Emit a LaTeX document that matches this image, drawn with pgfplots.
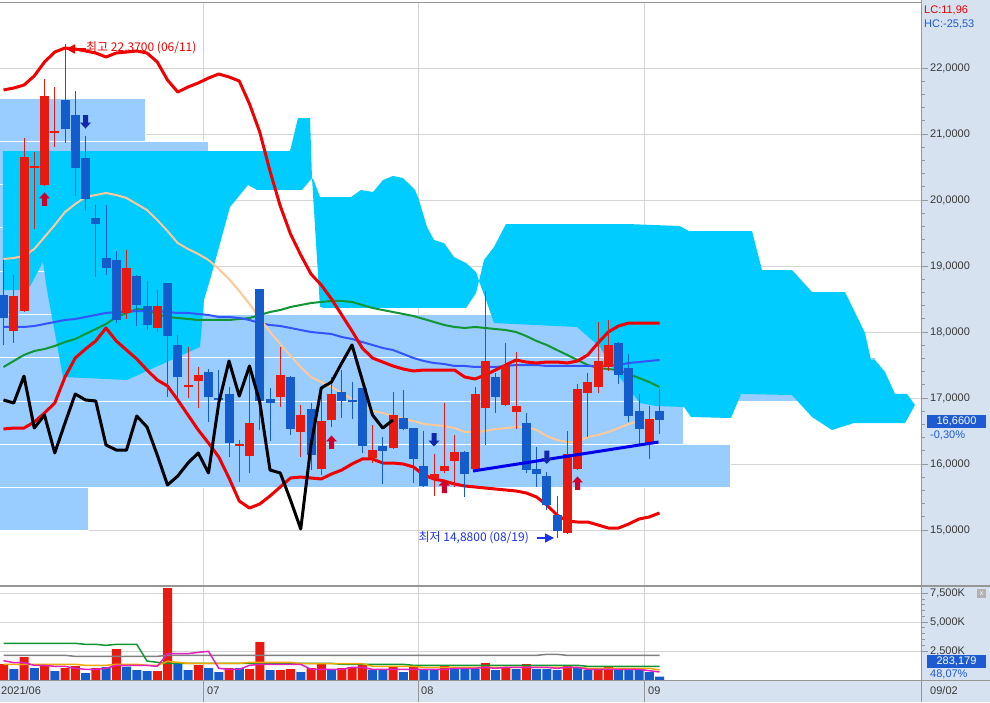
\documentclass[border=0pt]{standalone}
\usepackage{fontspec}
\setmainfont{Liberation Sans}
\newfontfamily\kr{Noto Sans CJK KR}
\usepackage{pgfplots}
\usepackage{pgfplotstable}
\pgfplotsset{compat=1.18}
\usetikzlibrary{arrows.meta}

\definecolor{cred}{RGB}{232,26,16}
\definecolor{cblue}{RGB}{20,92,204}
\definecolor{bbred}{RGB}{240,0,0}
\definecolor{peach}{RGB}{255,200,150}
\definecolor{magreen}{RGB}{16,150,50}
\definecolor{mablue}{RGB}{50,85,255}
\definecolor{cloud}{RGB}{0,204,255}
\definecolor{band}{RGB}{153,204,255}
\definecolor{panel}{RGB}{214,226,240}
\definecolor{gridc}{RGB}{212,212,212}
\definecolor{frame}{RGB}{150,150,150}
\definecolor{tickc}{RGB}{56,56,56}
\definecolor{sigred}{RGB}{210,0,40}
\definecolor{sigblue}{RGB}{16,40,170}
\definecolor{trend}{RGB}{0,0,235}
\definecolor{vmag}{RGB}{224,32,192}
\definecolor{vorange}{RGB}{240,168,0}
\definecolor{vgray}{RGB}{128,128,128}
\definecolor{lblue}{RGB}{30,90,210}
\definecolor{lowblue}{RGB}{30,50,230}

% signal arrows
\pgfdeclareplotmark{uparr}{%
  \pgfpathmoveto{\pgfqpoint{0pt}{7pt}}%
  \pgfpathlineto{\pgfqpoint{5.5pt}{1pt}}%
  \pgfpathlineto{\pgfqpoint{2.5pt}{1pt}}%
  \pgfpathlineto{\pgfqpoint{2.5pt}{-6.5pt}}%
  \pgfpathlineto{\pgfqpoint{-2.5pt}{-6.5pt}}%
  \pgfpathlineto{\pgfqpoint{-2.5pt}{1pt}}%
  \pgfpathlineto{\pgfqpoint{-5.5pt}{1pt}}%
  \pgfpathclose\pgfusepathqfill}
\pgfdeclareplotmark{dnarr}{%
  \pgfpathmoveto{\pgfqpoint{0pt}{-7pt}}%
  \pgfpathlineto{\pgfqpoint{5.5pt}{-1pt}}%
  \pgfpathlineto{\pgfqpoint{2.5pt}{-1pt}}%
  \pgfpathlineto{\pgfqpoint{2.5pt}{6.5pt}}%
  \pgfpathlineto{\pgfqpoint{-2.5pt}{6.5pt}}%
  \pgfpathlineto{\pgfqpoint{-2.5pt}{-1pt}}%
  \pgfpathlineto{\pgfqpoint{-5.5pt}{-1pt}}%
  \pgfpathclose\pgfusepathqfill}

% candles: index, open, high, low, close
\pgfplotstableread{
k o h l c
1 18.015 18.864 17.833 18.545
2 18.318 20.939 18.303 20.652
3 20.485 20.727 19.561 20.515
4 20.227 21.833 20.210 21.576
5 21.015 21.712 20.803 21.045
12 18.288 19.242 18.197 18.970
15 18.061 18.636 18.000 18.394
18 17.167 17.773 17.000 17.197
19 17.258 17.470 16.848 17.348
23 16.273 16.364 15.727 16.303
24 16.121 17.470 15.864 16.621
27 17.015 17.773 16.864 17.348
29 16.485 16.894 16.106 16.742
31 15.924 17.121 15.833 16.652
32 16.667 17.318 16.561 17.061
36 16.091 16.591 16.015 16.212
38 16.242 17.091 16.230 16.742
42 15.773 16.152 15.515 15.848
43 15.894 16.924 15.864 15.970
44 16.045 16.439 15.652 16.182
46 15.924 17.167 15.910 17.061
47 16.848 18.621 16.288 17.561
49 16.894 17.833 16.879 17.500
50 16.788 17.697 16.530 16.879
55 14.955 16.500 14.940 16.152
56 15.924 17.212 15.910 17.136
57 17.076 17.379 16.409 17.242
58 17.167 18.152 17.076 17.561
59 17.470 18.182 17.409 17.803
63 16.318 16.879 16.076 16.682
}\upcandles
\pgfplotstableread{
k o h l c
0 18.561 19.091 17.803 18.212
6 21.515 22.370 20.864 21.076
7 21.288 21.652 20.061 20.485
8 20.636 20.970 19.833 20.015
9 19.727 19.924 18.833 19.636
10 19.121 19.924 18.864 18.970
11 19.091 19.227 18.136 18.182
13 18.848 18.864 18.091 18.409
14 18.394 18.773 18.030 18.106
16 18.742 18.742 17.015 17.939
17 17.803 17.955 17.000 17.318
20 17.394 17.439 16.636 17.015
21 17.000 17.424 16.742 16.970
22 17.061 17.167 16.106 16.318
25 18.652 18.652 16.515 16.955
26 16.985 17.152 16.348 16.924
28 17.318 17.333 16.439 16.530
30 16.833 16.924 15.909 16.136
33 17.091 17.424 16.697 16.955
34 16.970 17.242 16.682 16.939
35 17.152 17.152 16.167 16.273
37 16.273 16.409 15.697 16.197
39 16.697 17.121 16.515 16.530
40 16.545 16.545 15.712 16.076
41 15.970 16.500 15.652 15.667
45 16.182 16.197 15.500 15.848
48 17.318 17.379 16.773 17.015
51 16.621 16.773 15.864 15.909
52 15.924 16.258 15.652 15.848
53 15.818 15.879 15.303 15.379
54 15.227 15.515 14.880 14.985
60 17.833 17.848 17.212 17.348
61 17.455 17.667 16.636 16.727
62 16.803 17.061 16.303 16.530
64 16.803 17.136 16.455 16.660
}\downcandles

% bollinger bands (upper, middle, lower) and moving averages
\pgfplotstableread{
k u m l g b
0 21.667 19.106 16.530 17.470 18.076
1 21.697 19.121 16.545 17.561 18.076
2 21.742 19.152 16.545 17.652 18.076
3 21.879 19.258 16.636 17.712 18.091
4 22.091 19.439 16.773 17.742 18.121
5 22.242 19.621 16.924 17.788 18.152
6 22.303 19.818 17.318 17.848 18.182
7 22.288 19.939 17.606 17.894 18.197
8 22.258 20.045 17.742 17.970 18.227
9 22.227 20.076 17.864 18.045 18.258
10 22.167 20.106 18.061 18.121 18.288
11 22.227 20.076 17.864 18.227 18.303
12 22.242 20.030 17.727 18.288 18.303
13 22.258 19.939 17.591 18.348 18.318
14 22.227 19.848 17.424 18.333 18.318
15 22.091 19.697 17.273 18.273 18.318
16 21.818 19.530 17.182 18.227 18.303
17 21.636 19.348 16.970 18.212 18.288
18 21.712 19.258 16.742 18.197 18.288
19 21.773 19.182 16.515 18.182 18.273
20 21.848 19.091 16.318 18.182 18.258
21 21.909 18.955 16.106 18.182 18.227
22 21.864 18.803 15.788 18.182 18.227
23 21.803 18.621 15.439 18.197 18.212
24 21.455 18.424 15.333 18.212 18.182
25 21.030 18.212 15.394 18.258 18.136
26 20.439 18.000 15.515 18.303 18.106
27 19.909 17.818 15.652 18.333 18.091
28 19.485 17.636 15.788 18.379 18.061
29 19.167 17.470 15.803 18.409 18.030
30 18.879 17.318 15.788 18.439 18.000
31 18.712 17.242 15.773 18.455 17.985
32 18.500 17.167 15.848 18.470 17.970
33 18.258 17.076 15.909 18.470 17.924
34 18.015 16.985 16.000 18.455 17.894
35 17.758 16.894 16.076 18.409 17.848
36 17.606 16.803 16.076 18.364 17.803
37 17.545 16.773 16.015 18.333 17.758
38 17.485 16.727 16.015 18.303 17.727
39 17.439 16.682 16.000 18.273 17.667
40 17.409 16.652 15.955 18.242 17.606
41 17.424 16.606 15.833 18.197 17.561
42 17.424 16.591 15.773 18.152 17.530
43 17.424 16.576 15.742 18.106 17.515
44 17.424 16.545 15.697 18.076 17.485
45 17.318 16.485 15.667 18.061 17.485
46 17.288 16.485 15.652 18.076 17.470
47 17.348 16.500 15.636 18.061 17.470
48 17.424 16.530 15.621 18.045 17.470
49 17.500 16.545 15.606 18.030 17.485
50 17.576 16.561 15.591 18.000 17.500
51 17.545 16.561 15.561 17.939 17.500
52 17.530 16.515 15.500 17.864 17.500
53 17.545 16.424 15.379 17.803 17.485
54 17.545 16.364 15.227 17.727 17.485
55 17.530 16.333 15.136 17.652 17.485
56 17.561 16.333 15.121 17.576 17.485
57 17.652 16.409 15.121 17.500 17.485
58 17.833 16.439 15.076 17.455 17.485
59 18.000 16.485 15.030 17.439 17.485
60 18.091 16.545 15.030 17.424 17.500
61 18.136 16.606 15.091 17.364 17.530
62 18.136 16.652 15.167 17.303 17.545
63 18.136 16.667 15.197 17.242 17.561
64 18.136 16.697 15.258 17.167 17.576
}\lines

\pgfplotstableread{
k v
0 16.970
1 16.924
2 17.333
3 16.545
4 16.742
5 16.167
6 16.621
7 17.061
8 16.970
9 16.955
10 16.288
11 16.212
12 16.212
13 16.727
14 16.561
15 16.136
16 15.682
17 15.818
18 16.015
19 16.167
20 15.864
21 16.924
22 17.561
23 17.030
24 17.485
25 16.939
26 15.909
27 15.864
28 15.455
29 15.015
30 16.288
31 17.152
32 17.242
33 17.530
34 17.803
35 17.273
36 16.742
37 16.545
38 16.667
}\blackline

% volume (thousands)
\pgfplotstableread{
k v
0 1384
2 1989
4 1297
6 1038
7 1211
9 1038
11 2681
15 778
16 7957
19 1297
22 1038
24 951
25 3287
27 865
28 951
30 1038
31 1384
33 1038
34 1124
35 1297
38 1211
40 1211
43 1211
47 1470
49 1038
51 1384
55 1211
58 951
59 1153
}\volup
\pgfplotstableread{
k v
1 951
3 1038
5 778
8 605
10 1124
12 1153
13 865
14 778
17 1384
18 865
20 1038
21 692
23 1038
26 865
29 692
32 951
36 865
37 865
39 692
41 951
42 865
44 1038
45 951
46 951
48 865
50 951
52 951
53 951
54 865
56 1124
57 865
60 951
61 951
62 951
63 692
64 283
}\voldown
\pgfplotstableread{
k gr gn mg or
0 2133 3171 1672 1355
1 2133 3171 1499 1355
2 2133 3171 1499 1355
3 2133 3171 1268 1355
4 2133 3171 1268 1355
5 2133 3171 1182 1355
6 2133 3171 1182 1355
7 2047 3171 1009 1355
8 2047 3085 923 1268
9 2047 3085 923 1268
10 2047 2998 1009 1268
11 2047 3085 1268 1355
12 2047 3085 1268 1355
13 2047 3085 1268 1355
14 2047 1643 1268 1268
15 2047 1528 1182 1268
16 2133 1441 2278 1614
17 2133 1441 2278 1528
18 2133 1441 2278 1441
19 2133 1441 2393 1441
20 2133 1441 2479 1441
21 2133 1441 1009 1441
22 2133 1441 923 1441
23 2133 1441 923 1441
24 2133 1441 1268 1528
25 2133 1441 1355 1528
26 2133 1441 1355 1528
27 2133 1441 1355 1528
28 2133 1441 1355 1528
29 2133 1441 1355 1413
30 2133 1441 923 1413
31 2133 1441 923 1413
32 2133 1441 923 1413
33 2133 1355 923 1413
34 2133 1355 1096 1413
35 2133 1355 1096 1413
36 2133 1355 923 1182
37 2133 1355 923 1182
38 2133 1355 923 1182
39 2133 1355 923 1182
40 2133 1268 923 1182
41 2133 1268 923 1096
42 2133 1268 923 1096
43 2133 1268 923 1096
44 2133 1268 1009 1096
45 2133 1268 1009 1096
46 2133 1268 1009 1096
47 2133 1268 1096 1096
48 2133 1268 1009 1096
49 2133 1268 1096 1096
50 2133 1268 1096 1096
51 2133 1268 1096 1096
52 2133 1268 1096 1096
53 2220 1268 1096 1096
54 2220 1268 1009 1096
55 2133 1268 1096 1096
56 2133 1268 1096 1096
57 2133 1182 923 1009
58 2133 1182 923 1009
59 2133 1182 923 1009
60 2133 1182 923 1009
61 2133 1182 923 1009
62 2133 1182 923 1009
63 2133 1182 807 1009
64 2133 1182 692 865
}\volma

\tikzset{lab/.style={font=\fontsize{11}{12}\selectfont, inner sep=0pt}}
\pgfplotsset{
  chartpanel/.style={
    anchor=south west, scale only axis, width=921pt,
    xmin=-0.3415, xmax=89.512,
    axis line style={draw=none},
    xtick={19.5,40.5,62.5}, xticklabels={}, x tick style={draw=none},
    xmajorgrids, ymajorgrids,
    major grid style={gridc, line width=1pt},
    ytick pos=right, yticklabel pos=right,
    minor y tick num=4, tick align=outside,
    major tick length=7pt, minor tick length=3.5pt,
    y tick style={frame, line width=1pt},
    yticklabel style={font=\fontsize{11}{12}\selectfont, text=tickc, anchor=west, inner sep=0pt, xshift=2pt},
  },
  wick/.style={draw=none, error bars/.cd, y dir=both, y explicit, error mark=none,
    error bar style={line width=1pt, draw=#1}},
  body/.style={draw=none, error bars/.cd, y dir=both, y explicit, error mark=none,
    error bar style={line width=9pt, draw=#1}},
}

\begin{document}
\begin{tikzpicture}
\useasboundingbox (0pt,0pt) rectangle (990pt,702pt);
\fill[white] (0pt,0pt) rectangle (990pt,702pt);
\fill[panel] (921pt,0pt) rectangle (990pt,702pt);
\fill[panel] (0pt,0pt) rectangle (921pt,21pt);

% ---------------- price panel ----------------
\begin{axis}[chartpanel, at={(0pt,116pt)}, height=583pt,
  ymin=14.1515, ymax=22.985,
  ytick={15,16,...,22},
  yticklabels={{15,0000},{16,0000},{17,0000},{18,0000},{19,0000},{20,0000},{21,0000},{22,0000}},
]
% volume-at-price bands
\addplot[fill=band, draw=white, line width=1pt] coordinates {(-1,21.545) (13.902,21.545) (13.902,20.889) (-1,20.889)} -- cycle;
\addplot[fill=band, draw=white, line width=1pt] coordinates {(-1,20.889) (19.951,20.889) (19.951,20.233) (-1,20.233)} -- cycle;
\addplot[fill=band, draw=white, line width=1pt] coordinates {(-1,20.233) (11.366,20.233) (11.366,19.577) (-1,19.577)} -- cycle;
\addplot[fill=band, draw=white, line width=1pt] coordinates {(-1,19.577) (11.366,19.577) (11.366,18.921) (-1,18.921)} -- cycle;
\addplot[fill=band, draw=white, line width=1pt] coordinates {(-1,18.921) (11.366,18.921) (11.366,18.265) (-1,18.265)} -- cycle;
\addplot[fill=band, draw=white, line width=1pt] coordinates {(-1,18.265) (66.293,18.265) (66.293,17.609) (-1,17.609)} -- cycle;
\addplot[fill=band, draw=white, line width=1pt] coordinates {(-1,17.609) (85.024,17.609) (85.024,16.953) (-1,16.953)} -- cycle;
\addplot[fill=band, draw=white, line width=1pt] coordinates {(-1,16.953) (66.293,16.953) (66.293,16.297) (-1,16.297)} -- cycle;
\addplot[fill=band, draw=white, line width=1pt] coordinates {(-1,16.297) (70.878,16.297) (70.878,15.641) (-1,15.641)} -- cycle;
\addplot[fill=band, draw=white, line width=1pt] coordinates {(-1,15.641) (8.244,15.641) (8.244,14.985) (-1,14.985)} -- cycle;

% ichimoku cloud
\addplot[fill=cloud, draw=none] coordinates {
(-0.049,20.742) (27.951,20.742) (28.732,21.242) (29.902,21.242) (30.098,20.333)
(29.122,20.152) (24.732,20.152) (23.854,20.227) (22.098,19.894) (20.146,18.788)
(19.561,18.485) (19.171,17.773) (12.049,17.273) (5.805,17.318) (4.244,18.636)
(3.854,19.061) (2.390,18.636) (-0.049,18.636)} -- cycle;
\addplot[fill=cloud, draw=none] coordinates {
(30.098,20.333) (30.293,20.288) (30.878,20.045) (33.902,20.045) (34.878,20.152)
(36.049,20.121) (37.024,20.303) (38.000,20.364) (38.976,20.333) (40.146,20.152)
(40.537,20.000) (41.317,19.591) (42.000,19.394) (42.976,19.348) (43.951,19.136)
(45.122,19.045) (46.098,18.909) (46.390,18.773) (46.098,18.591) (45.122,18.364)
(31.268,18.364) (30.878,18.379)} -- cycle;
\addplot[fill=cloud, draw=none] coordinates {
(46.390,18.773) (46.878,19.091) (47.854,19.288) (49.024,19.636) (60.927,19.636)
(65.951,19.606) (66.878,19.530) (73.024,19.530) (74.000,18.939) (76.927,18.939)
(78.878,18.606) (82.098,18.606) (84.049,17.985) (84.634,17.576) (85.024,17.576)
(86.000,17.394) (86.976,17.061) (88.146,17.061) (88.927,16.894) (87.951,16.621)
(82.976,16.621) (80.829,16.515) (78.878,16.712) (76.927,17.045) (71.951,17.061)
(70.976,16.697) (67.073,16.712) (66.390,16.864) (63.659,16.879) (62.098,16.924)
(59.756,17.379) (58.195,17.773) (55.951,18.076) (47.854,18.136) (47.073,18.485)} -- cycle;

% moving averages and bollinger bands
\addplot[magreen, line width=2pt, line join=round] table[x=k, y=g] {\lines};
\addplot[mablue, line width=2pt, line join=round] table[x=k, y=b] {\lines};
\addplot[peach, line width=2pt, line join=round] table[x=k, y=m] {\lines};
\addplot[bbred, line width=3pt, line join=round] table[x=k, y=u] {\lines};
\addplot[bbred, line width=3pt, line join=round] table[x=k, y=l] {\lines};

% candles
\addplot[wick=cred] table[x=k, y expr={(\thisrow{h}+\thisrow{l})/2}, y error expr={(\thisrow{h}-\thisrow{l})/2}] {\upcandles};
\addplot[body=cred] table[x=k, y expr={(\thisrow{o}+\thisrow{c})/2}, y error expr={abs(\thisrow{c}-\thisrow{o})/2}] {\upcandles};
\addplot[wick=cblue] table[x=k, y expr={(\thisrow{h}+\thisrow{l})/2}, y error expr={(\thisrow{h}-\thisrow{l})/2}] {\downcandles};
\addplot[body=cblue] table[x=k, y expr={(\thisrow{o}+\thisrow{c})/2}, y error expr={abs(\thisrow{c}-\thisrow{o})/2}] {\downcandles};

% overlay line, trend line, signals
\addplot[black, line width=3pt, line join=round] table[x=k, y=v] {\blackline};
\addplot[trend, line width=3pt] coordinates {(45.8,15.894) (63.9,16.333)};
\addplot[only marks, mark=uparr, mark options={fill=sigred, draw=none}] coordinates {(4,20.008) (32,16.326) (43,15.659) (56,15.705)};
\addplot[only marks, mark=dnarr, mark options={fill=sigblue, draw=none}] coordinates {(8,21.189) (42,16.371) (53,16.106)};
\end{axis}

% ---------------- volume panel ----------------
\begin{axis}[chartpanel, at={(0pt,22pt)}, height=94pt,
  ymin=0, ymax=8131, scaled y ticks=false,
  ytick={2500,5000,7500},
  yticklabels={{2,500K},{5,000K},{7,500K}},
]
\addplot[ybar, bar width=9pt, bar shift=0pt, fill=cred, draw=none] table[x=k, y=v] {\volup};
\addplot[ybar, bar width=9pt, bar shift=0pt, fill=cblue, draw=none] table[x=k, y=v] {\voldown};
\addplot[vgray, line width=1.5pt] table[x=k, y=gr] {\volma};
\addplot[magreen, line width=1.5pt] table[x=k, y=gn] {\volma};
\addplot[vorange, line width=1.5pt] table[x=k, y=or] {\volma};
\addplot[vmag, line width=1.5pt] table[x=k, y=mg] {\volma};
\end{axis}

% frame lines
\draw[frame, line width=1pt] (0pt,699pt) -- (921pt,699pt);
\draw[frame, line width=2pt] (0pt,116pt) -- (990pt,116pt);
\draw[frame, line width=1pt] (0pt,21.5pt) -- (990pt,21.5pt);
\draw[frame, line width=1pt] (921.5pt,0pt) -- (921.5pt,702pt);
\foreach \xx in {203.5,418.5,644.5} \draw[frame, line width=1pt] (\xx pt,0pt) -- (\xx pt,21pt);

% right-hand labels
\node[lab, anchor=west, text=bbred] at (924pt,692pt) {LC:11,96};
\node[lab, anchor=west, text=lblue] at (924pt,678pt) {HC:-25,53};
\fill[lblue] (927pt,274pt) rectangle (986pt,287pt);
\node[lab, text=white] at (956.5pt,280.5pt) {16,6600};
\node[lab, anchor=west, text=lblue] at (930pt,267pt) {-0,30\%};
\fill[lblue] (927pt,34pt) rectangle (986pt,47pt);
\node[lab, text=white] at (956.5pt,40.5pt) {283,179};
\node[lab, anchor=west, text=lblue] at (930pt,28pt) {48,07\%};
\fill[gray!60] (977pt,104pt) rectangle (986pt,113pt);
\node[font=\fontsize{7}{7}\selectfont, inner sep=0pt, text=white] at (981.5pt,108.5pt) {x};

% date strip
\node[lab, anchor=west, text=tickc] at (1pt,11pt) {2021/06};
\node[lab, anchor=west, text=tickc] at (207pt,11pt) {07};
\node[lab, anchor=west, text=tickc] at (421pt,11pt) {08};
\node[lab, anchor=west, text=tickc] at (648pt,11pt) {09};
\node[lab, anchor=west, text=tickc] at (930pt,11pt) {09/02};

% high / low annotations
\draw[bbred, line width=1.5pt, -{Triangle[length=9pt,width=9pt]}] (86pt,653pt) -- (66pt,653pt);
\node[inner sep=0pt, anchor=west, text=bbred, font=\kr\fontsize{12}{13}\selectfont] at (86pt,654pt) {최고 22,3700 (06/11)};
\node[inner sep=0pt, anchor=east, text=lowblue, font=\kr\fontsize{12}{13}\selectfont] at (529pt,164pt) {최저 14,8800 (08/19)};
\draw[lowblue, line width=1.5pt, -{Triangle[length=9pt,width=9pt]}] (537pt,164pt) -- (554pt,164pt);
\end{tikzpicture}
\end{document}
